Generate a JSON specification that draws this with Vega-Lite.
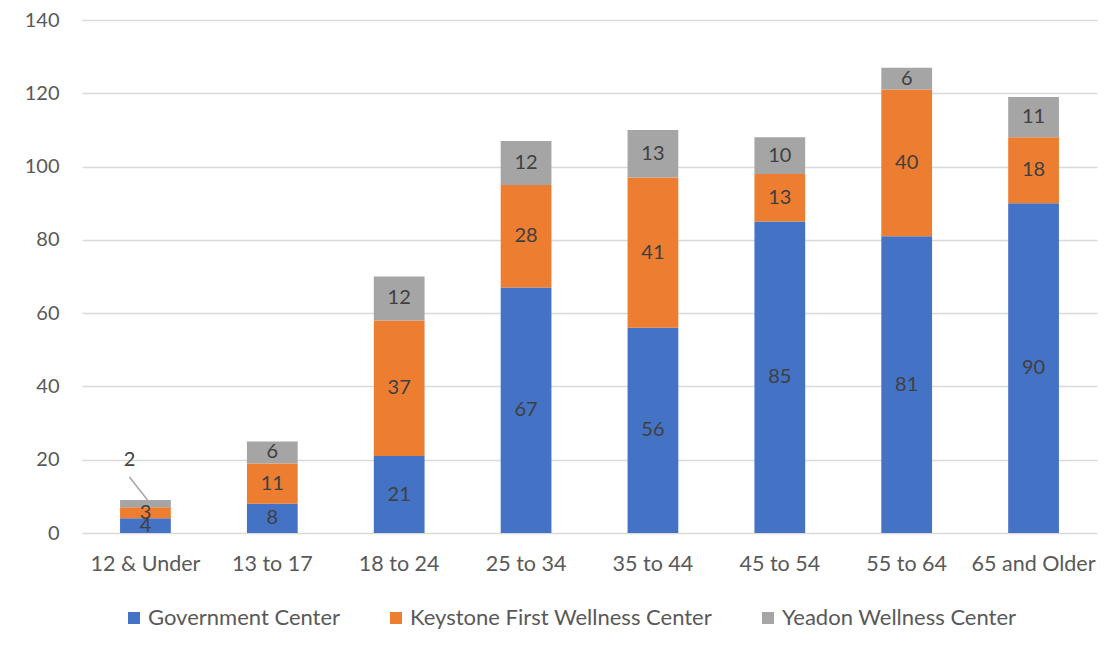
{
  "$schema": "https://vega.github.io/schema/vega-lite/v6.json",
  "width": 1015,
  "height": 513,
  "autosize": "none",
  "padding": {"left": 82, "top": 20, "right": 12, "bottom": 119},
  "background": "white",
  "config": {"view": {"stroke": null}, "font": "Lato"},
  "data": {
    "values": [
      {"age": "12 & Under", "center": "Government Center", "value": 4},
      {"age": "12 & Under", "center": "Keystone First Wellness Center", "value": 3},
      {"age": "12 & Under", "center": "Yeadon Wellness Center", "value": 2},
      {"age": "13 to 17", "center": "Government Center", "value": 8},
      {"age": "13 to 17", "center": "Keystone First Wellness Center", "value": 11},
      {"age": "13 to 17", "center": "Yeadon Wellness Center", "value": 6},
      {"age": "18 to 24", "center": "Government Center", "value": 21},
      {"age": "18 to 24", "center": "Keystone First Wellness Center", "value": 37},
      {"age": "18 to 24", "center": "Yeadon Wellness Center", "value": 12},
      {"age": "25 to 34", "center": "Government Center", "value": 67},
      {"age": "25 to 34", "center": "Keystone First Wellness Center", "value": 28},
      {"age": "25 to 34", "center": "Yeadon Wellness Center", "value": 12},
      {"age": "35 to 44", "center": "Government Center", "value": 56},
      {"age": "35 to 44", "center": "Keystone First Wellness Center", "value": 41},
      {"age": "35 to 44", "center": "Yeadon Wellness Center", "value": 13},
      {"age": "45 to 54", "center": "Government Center", "value": 85},
      {"age": "45 to 54", "center": "Keystone First Wellness Center", "value": 13},
      {"age": "45 to 54", "center": "Yeadon Wellness Center", "value": 10},
      {"age": "55 to 64", "center": "Government Center", "value": 81},
      {"age": "55 to 64", "center": "Keystone First Wellness Center", "value": 40},
      {"age": "55 to 64", "center": "Yeadon Wellness Center", "value": 6},
      {"age": "65 and Older", "center": "Government Center", "value": 90},
      {"age": "65 and Older", "center": "Keystone First Wellness Center", "value": 18},
      {"age": "65 and Older", "center": "Yeadon Wellness Center", "value": 11}
    ]
  },
  "transform": [
    {"calculate": "indexof(['Government Center','Keystone First Wellness Center','Yeadon Wellness Center'], datum.center)", "as": "order"},
    {"stack": "value", "groupby": ["age"], "sort": [{"field": "order", "order": "ascending"}], "as": ["y0", "y1"]},
    {"calculate": "datum.value < 3 ? datum.y1 + 11 : (datum.y0 + datum.y1) / 2", "as": "labelY"},
    {"calculate": "datum.labelY - 4.7", "as": "lineTop"}
  ],
  "encoding": {
    "x": {
      "field": "age",
      "type": "nominal",
      "sort": ["12 & Under", "13 to 17", "18 to 24", "25 to 34", "35 to 44", "45 to 54", "55 to 64", "65 and Older"],
      "scale": {"paddingInner": 0.6, "paddingOuter": 0.3},
      "axis": {
        "title": null,
        "labelAngle": 0,
        "domain": false,
        "ticks": false,
        "labelPadding": 20,
        "labelFontSize": 21.5,
        "labelColor": "#595959",
        "labelFont": "Lato"
      }
    }
  },
  "layer": [
    {
      "mark": {"type": "bar"},
      "encoding": {
        "y": {
          "field": "y0",
          "type": "quantitative",
          "scale": {"domain": [0, 140], "nice": false},
          "axis": {
            "title": null,
            "values": [0, 20, 40, 60, 80, 100, 120, 140],
            "domain": false,
            "ticks": false,
            "gridColor": "#d9d9d9",
            "gridWidth": 1.5,
            "labelPadding": 23,
            "labelFontSize": 20,
            "labelColor": "#595959",
            "labelFont": "Lato"
          }
        },
        "y2": {"field": "y1"},
        "color": {
          "field": "center",
          "type": "nominal",
          "scale": {
            "domain": ["Government Center", "Keystone First Wellness Center", "Yeadon Wellness Center"],
            "range": ["#4472C4", "#ED7D31", "#A5A5A5"]
          },
          "legend": {
            "title": null,
            "orient": "none",
            "direction": "horizontal",
            "legendX": 41,
            "legendY": 587,
            "symbolType": "square",
            "symbolSize": 144,
            "symbolStrokeWidth": 0,
            "symbolOpacity": 1,
            "labelFontSize": 22,
            "labelColor": "#595959",
            "labelFont": "Lato",
            "labelLimit": 0,
            "columnPadding": 44,
            "labelOffset": 3
          }
        },
        "order": {"field": "order"}
      }
    },
    {
      "transform": [{"filter": "datum.value < 3"}],
      "mark": {"type": "rule", "color": "#a6a6a6", "strokeWidth": 1.5, "xOffset": -16, "x2Offset": 2},
      "encoding": {
        "x2": {"field": "age"},
        "y": {"field": "lineTop", "type": "quantitative"},
        "y2": {"field": "y1"}
      }
    },
    {
      "transform": [{"filter": "datum.value >= 3"}],
      "mark": {"type": "text", "fontSize": 20, "color": "#404040", "baseline": "middle", "align": "center", "font": "Lato"},
      "encoding": {
        "y": {"field": "labelY", "type": "quantitative"},
        "text": {"field": "value", "type": "quantitative"}
      }
    },
    {
      "transform": [{"filter": "datum.value < 3"}],
      "mark": {"type": "text", "fontSize": 20, "color": "#404040", "baseline": "middle", "align": "center", "dx": -16, "font": "Lato"},
      "encoding": {
        "y": {"field": "labelY", "type": "quantitative"},
        "text": {"field": "value", "type": "quantitative"}
      }
    }
  ]
}
